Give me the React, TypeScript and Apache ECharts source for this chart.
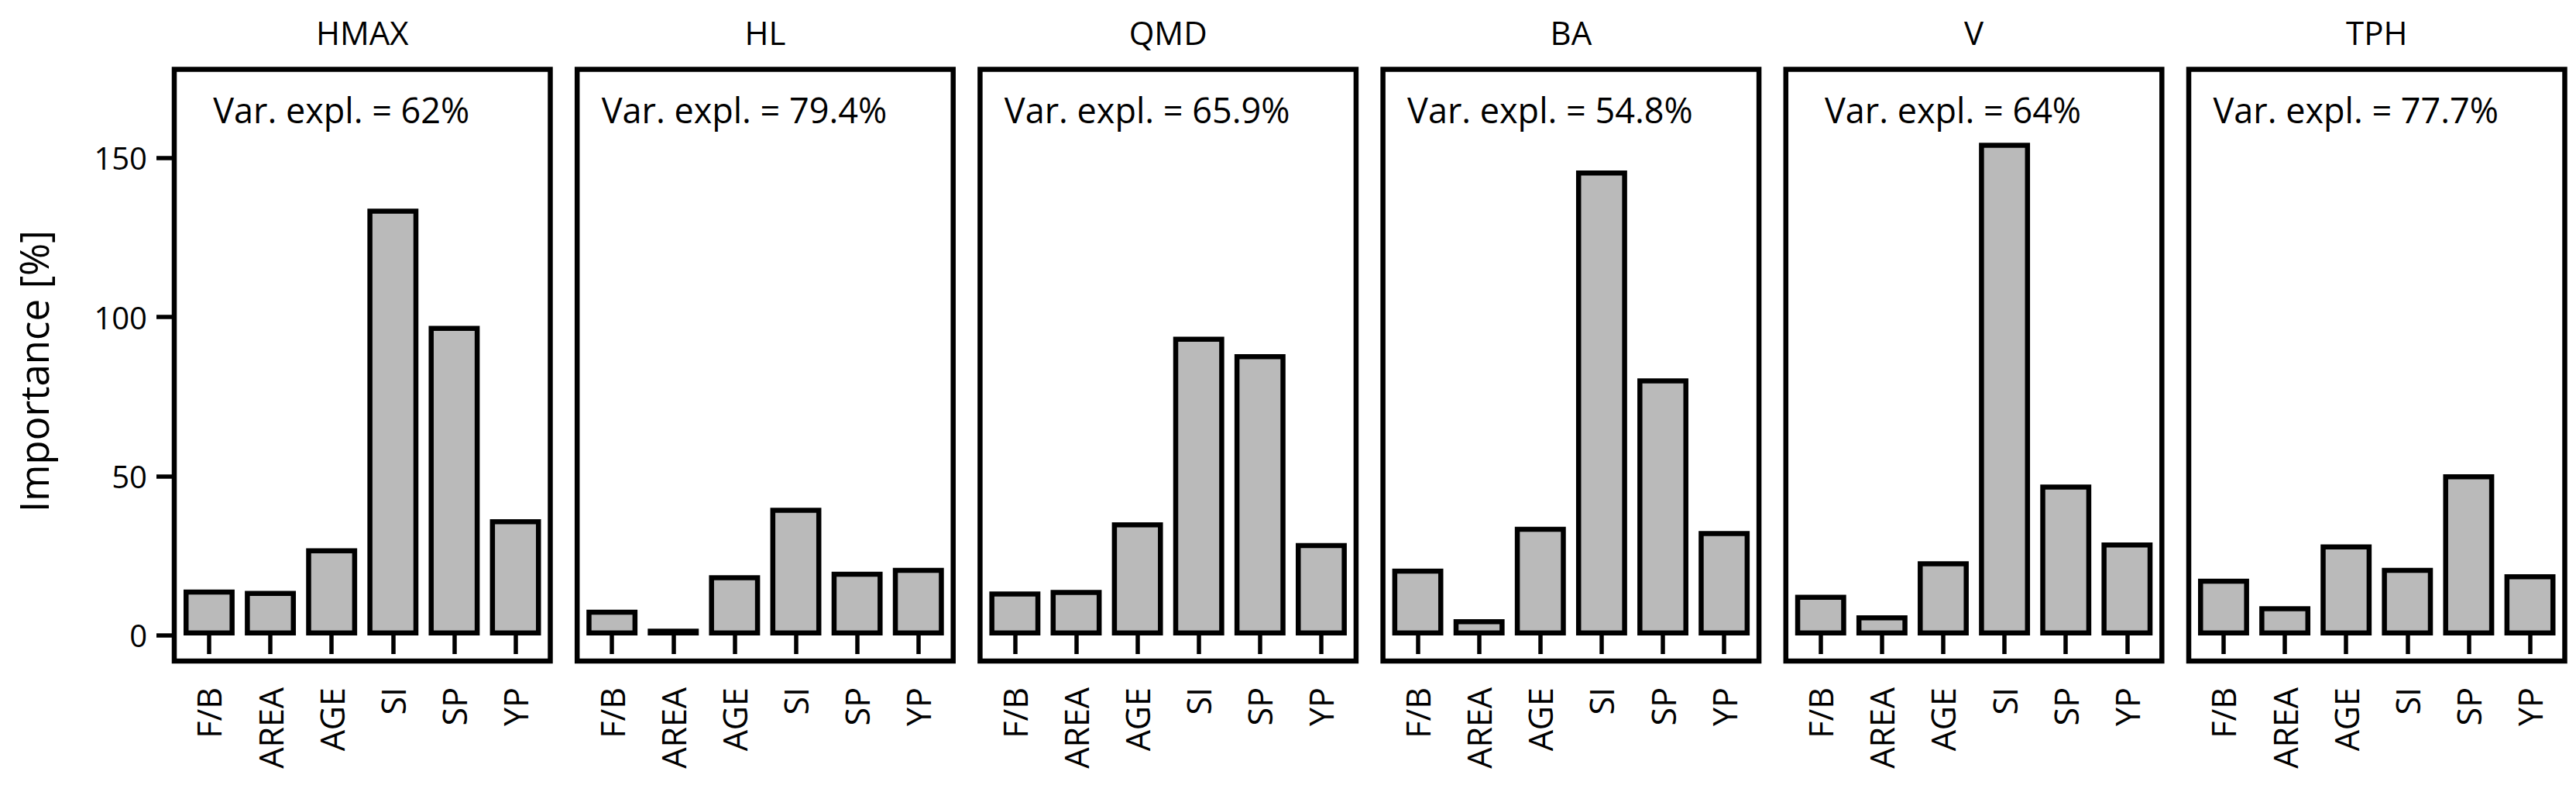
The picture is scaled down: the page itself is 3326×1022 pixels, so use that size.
import React, { useEffect, useRef } from "react";
import * as echarts from "echarts";

// Predictor names shared by every panel
const categories = ["F/B", "AREA", "AGE", "SI", "SP", "YP"];

// Response variables, one panel each
const panelTitles = ["HMAX", "HL", "QMD", "BA", "V", "TPH"];
const varExplained = ["62%", "79.4%", "65.9%", "54.8%", "64%", "77.7%"];

// Variable importance [%] per predictor
const hmax = [14.4, 14.0, 27.4, 134.0, 97.2, 36.5];
const hl = [8.1, 2.1, 18.9, 40.1, 20.0, 21.2];
const qmd = [13.8, 14.3, 35.5, 93.8, 88.3, 29.0];
const ba = [21.0, 5.1, 34.1, 146.0, 80.7, 32.8];
const vol = [12.8, 6.3, 23.3, 154.7, 47.4, 29.2];
const tph = [17.8, 9.2, 28.6, 21.2, 50.6, 19.2];

const yTicks = [0, 50, 100, 150];
const yLabel = "Importance [%]";

const panelValues = [hmax, hl, qmd, ba, vol, tph];

// Layout (pixels)
const W = 3326;
const H = 1022;
const FONT = "Open Sans";
const BOX_LEFT0 = 225;
const BOX_STEP = 520.2;
const BOX_W = 485.5;
const BOX_TOP = 89.5;
const BOX_BOTTOM = 853;
const INSET = 5.4;
const LINE_W = 6.5;
const TICK_W = 5.5;
const Y_MIN = -8.03;
const Y_MAX = 177.74;
const BAR_FILL = "#BABABA";

function label(text: string, x: number, y: number, size: number, rotation = 0) {
  return {
    type: "text",
    x,
    y,
    rotation,
    silent: true,
    style: {
      text,
      fill: "#000",
      fontSize: size,
      fontFamily: FONT,
      textAlign: "center",
      textVerticalAlign: "middle",
    },
  };
}

function buildOption() {
  const grids: any[] = [];
  const xAxes: any[] = [];
  const yAxes: any[] = [];
  const series: any[] = [];
  const graphics: any[] = [];

  panelTitles.forEach((title, i) => {
    const boxLeft = BOX_LEFT0 + BOX_STEP * i;
    const boxCenter = boxLeft + BOX_W / 2;

    grids.push({
      left: boxLeft + INSET,
      width: BOX_W - 2 * INSET,
      top: BOX_TOP,
      height: BOX_BOTTOM - BOX_TOP,
      containLabel: false,
    });

    xAxes.push({
      type: "category",
      gridIndex: i,
      data: categories,
      boundaryGap: true,
      axisLine: { show: false },
      axisTick: {
        show: true,
        alignWithLabel: true,
        length: 24,
        lineStyle: { color: "#000", width: TICK_W },
      },
      axisLabel: {
        rotate: 90,
        margin: 34,
        interval: 0,
        color: "#000",
        fontSize: 43,
        fontFamily: FONT,
      },
      splitLine: { show: false },
    });

    const first = i === 0;
    yAxes.push({
      type: "value",
      gridIndex: i,
      min: Y_MIN,
      max: Y_MAX,
      offset: INSET,
      axisLine: { show: false },
      axisTick: {
        show: first,
        customValues: yTicks,
        length: 23,
        lineStyle: { color: "#000", width: TICK_W },
      },
      axisLabel: {
        show: first,
        customValues: yTicks,
        margin: 35,
        color: "#000",
        fontSize: 40,
        fontFamily: FONT,
      },
      splitLine: { show: false },
    });

    series.push({
      type: "bar",
      xAxisIndex: i,
      yAxisIndex: i,
      data: panelValues[i],
      barWidth: "83.3%",
      itemStyle: {
        color: BAR_FILL,
        borderColor: "#000",
        borderWidth: LINE_W,
      },
      silent: true,
    });

    // Panel frame
    graphics.push({
      type: "rect",
      shape: { x: boxLeft, y: BOX_TOP, width: BOX_W, height: BOX_BOTTOM - BOX_TOP },
      style: { fill: "none", stroke: "#000", lineWidth: LINE_W },
      silent: true,
      z: 10,
    });

    // Panel title and explained variance note
    graphics.push(label(title, boxCenter, 41, 42));
    graphics.push(label(`Var. expl. = ${varExplained[i]}`, boxCenter - 27, 141, 45));
  });

  // Shared y-axis title
  graphics.push(label(yLabel, 43, 479, 51, Math.PI / 2));

  return {
    animation: false,
    backgroundColor: "#fff",
    grid: grids,
    xAxis: xAxes,
    yAxis: yAxes,
    series,
    graphic: graphics,
  };
}

export default function App() {
  const ref = useRef<HTMLDivElement>(null);

  useEffect(() => {
    if (!ref.current) return;
    const chart = echarts.init(ref.current, null, { renderer: "svg", width: W, height: H });
    chart.setOption(buildOption());
    return () => {
      chart.dispose();
    };
  }, []);

  return (
    <div
      ref={ref}
      style={{ position: "absolute", left: 0, top: 0, width: W, height: H, background: "#fff" }}
    />
  );
}
